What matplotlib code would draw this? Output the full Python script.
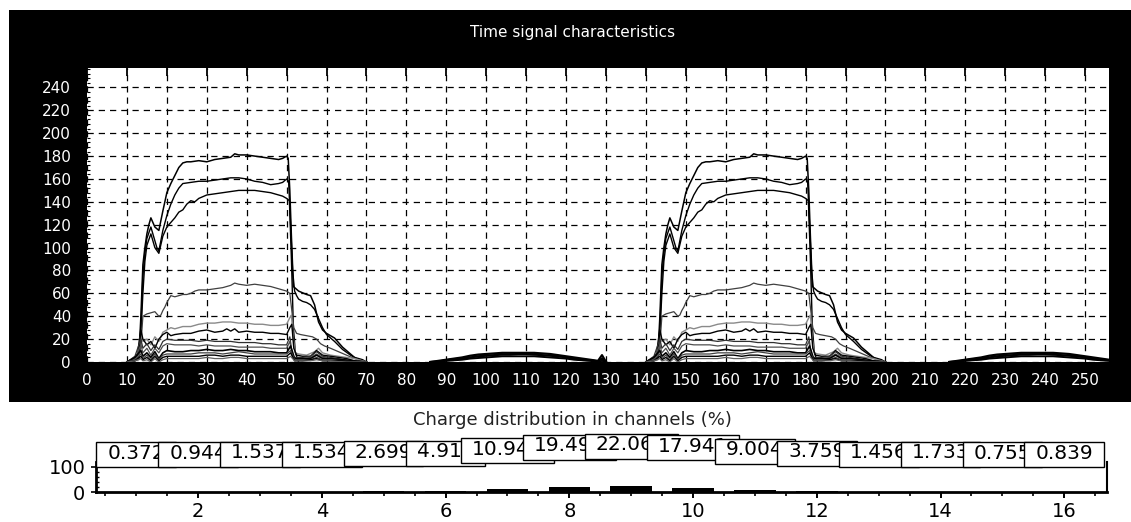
import numpy as np
import matplotlib
matplotlib.use("Agg")
import matplotlib.pyplot as plt
from matplotlib.patches import Rectangle
from matplotlib.ticker import MultipleLocator

# ---- time signal, one period (second period is the same pulse 130 later)
pulse_offsets = [0, 130]

xa = [10, 12, 13, 13.5, 14, 14.5, 15, 15.5, 16, 17, 18, 19, 20, 21, 22, 23, 24, 25, 26, 28, 30, 32, 34, 36,
      37, 38, 40, 42, 44, 46, 48, 49, 50, 50.4, 50.8, 51.2, 51.7, 53, 55, 56, 57, 58, 59, 60, 61, 62, 63, 64,
      65, 66, 67, 68, 69, 70]
ya = [0, 1, 5, 40, 85, 100, 112, 120, 126, 118, 115, 132, 148, 156, 163, 170, 174, 175, 175, 176, 175, 177,
      178, 179, 182, 181, 181, 180, 179, 178, 177, 178, 180, 178, 150, 110, 66, 62, 59, 58, 50, 35, 28, 25, 23,
      21, 17, 13, 10, 7, 4, 3, 2, 0]

xb = [10, 12.5, 13.5, 14, 14.5, 15, 16, 17, 17.5, 18, 19, 20, 21, 22, 23, 24, 26, 28, 30, 32, 34, 36, 38, 40,
      42, 44, 46, 48, 49, 50, 50.5, 51, 51.5, 52, 52.5, 53, 54, 55, 56, 57, 58, 59, 60, 62, 64, 66, 68, 70]
yb = [0, 2, 30, 75, 95, 108, 118, 106, 100, 97, 115, 128, 138, 146, 152, 156, 157, 158, 158, 159, 160, 161,
      161, 160, 158, 157, 155, 156, 157, 160, 158, 120, 80, 62, 58, 55, 53, 52, 50, 46, 38, 30, 24, 18, 11, 6,
      2, 0]

xc = [10, 13, 13.5, 14, 14.5, 15, 16, 17, 18, 19, 20, 21, 22, 23, 24, 25, 26, 27, 28, 30, 32, 34, 36, 38, 40,
      42, 44, 46, 48, 49, 50, 50.7, 51.2, 51.7, 52.2, 53]
yc = [0, 3, 25, 60, 88, 102, 112, 100, 95, 110, 118, 122, 126, 131, 133, 138, 141, 140, 143, 146, 147, 148,
      149, 150, 150, 150, 149, 148, 146, 145, 143, 141, 90, 30, 8, 0]

xd = [10, 13, 13.5, 14, 15, 16, 17, 18, 18.5, 19, 19.5, 20, 21, 22, 23, 24, 25, 26, 27, 28, 30, 32, 34, 36,
      37, 38, 40, 42, 44, 46, 48, 50, 50.8, 51.3, 51.8, 52.5, 53.5, 55, 56.5, 57.5, 58.5, 59.5, 61, 63, 65,
      67, 69, 70]
yd = [0, 2, 15, 40, 42, 43, 44, 40, 41, 45, 48, 52, 58, 57, 58, 59, 59, 60, 62, 63, 63, 64, 65, 67, 69, 68,
      67, 68, 67, 66, 64, 62, 60, 45, 30, 25, 24, 23, 22, 20, 16, 14, 12, 9, 6, 3, 1, 0]

xe = [10, 12, 13, 13.5, 14, 15, 16, 17, 18, 19, 20, 21, 22, 24, 26, 28, 30, 32, 34, 36, 38, 40, 42, 44, 46,
      48, 50, 50.7, 51.2, 51.7, 52.2, 53, 55, 57, 58, 59, 61, 63, 65, 67, 69, 70]
ye = [0, 3, 6, 25, 18, 20, 15, 22, 18, 26, 28, 30, 29, 31, 31, 33, 34, 34, 35, 35, 34, 34, 33, 33, 32, 32,
      33, 38, 41, 20, 8, 7, 6, 9, 12, 8, 6, 5, 4, 3, 1, 0]

xf = [10, 12, 13, 13.5, 14, 15, 16, 17, 18, 19, 20, 21, 22, 24, 26, 28, 30, 32, 34, 35, 36, 37, 38, 40, 42,
      44, 46, 48, 50, 50.8, 51.3, 51.8, 52.5, 54, 56, 57.5, 59, 61, 63, 65, 67, 70]
yf = [0, 4, 8, 28, 20, 15, 18, 12, 20, 24, 26, 23, 24, 25, 25, 27, 28, 26, 27, 29, 27, 29, 26, 27, 26, 26,
      25, 25, 24, 30, 33, 12, 6, 5, 5, 10, 6, 5, 4, 3, 1, 0]

xg = [10, 12, 13.5, 14, 15, 16, 17, 18, 19, 20, 22, 24, 26, 28, 30, 32, 34, 36, 38, 40, 42, 44, 46, 48, 50,
      50.8, 51.5, 52, 54, 56, 57.5, 59, 61, 63, 66, 70]
yg = [0, 5, 20, 12, 16, 10, 15, 11, 18, 20, 19, 19, 19, 18, 19, 18, 18, 18, 17, 17, 17, 16, 16, 15, 15, 22,
      5, 4, 4, 5, 9, 5, 4, 3, 1, 0]
yh = [0, 3, 15, 8, 12, 6, 12, 8, 14, 16, 15, 15, 15, 14, 15, 14, 14, 14, 13, 13, 13, 13, 12, 12, 12, 18, 4,
      3, 3, 4, 7, 4, 3, 2, 1, 0]

xl = [10, 12, 13.5, 14, 15, 16, 17, 18, 19, 20, 22, 24, 26, 28, 30, 32, 34, 36, 38, 40, 42, 44, 46, 48, 50,
      51, 52, 54, 56, 57.5, 59, 61, 64, 67, 70]
yi = [0, 4, 10, 5, 8, 4, 9, 3, 8, 10, 9, 9, 10, 10, 11, 10, 10, 11, 10, 10, 9, 9, 9, 8, 8, 14, 3, 3, 3, 6, 3,
      3, 2, 1, 0]
yj = [0, 2, 7, 3, 6, 2, 7, 2, 6, 7, 7, 7, 7, 8, 8, 8, 7, 8, 9, 8, 7, 7, 7, 7, 7, 10, 2, 2, 2, 4, 2, 2, 1, 0, 0]
yk = [0, 1, 5, 2, 4, 1, 5, 1, 4, 5, 5, 5, 5, 5, 6, 6, 5, 6, 6, 5, 5, 5, 5, 5, 5, 8, 1, 1, 2, 3, 1, 1, 1, 0, 0]
ym = [0, 1, 3, 1, 2, 0, 3, 0, 2, 3, 3, 3, 3, 3, 4, 3, 3, 4, 4, 3, 3, 3, 3, 3, 3, 5, 1, 1, 1, 2, 1, 1, 0, 0, 0]

# small bump between the pulses
xbump = [86, 88, 90, 92, 94, 96, 98, 100, 102, 104, 106, 108, 110, 112, 114, 116, 118, 120, 122, 124, 126,
         128, 129, 130]
bump1 = [0, 1, 2, 3, 4, 5.5, 6.5, 7, 7.5, 8, 8, 8, 8, 8, 7.5, 7, 6, 5, 4, 3, 2, 1, 6, 0]
bump2 = [0, 0.5, 1.5, 2.5, 3, 4, 5, 5.5, 6, 6.5, 6.5, 7, 7, 6.5, 6, 5.5, 5, 4, 3, 2, 1.5, 0.5, 3, 0]
bump3 = [0, 0, 1, 1.5, 2, 3, 3.5, 4, 4.5, 5, 5, 5, 5, 5, 4.5, 4, 3.5, 3, 2, 1.5, 1, 0, 1, 0]

# ---- charge distribution
channels = list(range(1, 17))
charge = [0.372, 0.944, 1.537, 1.534, 2.699, 4.912, 10.947, 19.495, 22.068, 17.941, 9.004, 3.759, 1.456,
          1.733, 0.755, 0.839]
charge_labels = ["0.372", "0.944", "1.537", "1.534", "2.699", "4.912", "10.947", "19.495", "22.068",
                 "17.941", "9.004", "3.759", "1.456", "1.733", "0.755", "0.839"]

curves = [
    (xa, ya, "black", 1.1), (xb, yb, "black", 1.0), (xc, yc, "black", 1.0),
    (xd, yd, "#404040", 0.9), (xe, ye, "#8a8a8a", 1.0), (xf, yf, "black", 1.0),
    (xg, yg, "#303030", 0.9), (xg, yh, "#505050", 0.9),
    (xl, yi, "black", 1.2), (xl, yj, "#404040", 0.9), (xl, yk, "black", 1.0), (xl, ym, "#606060", 0.9),
    (xbump, bump1, "black", 1.6), (xbump, bump2, "black", 1.6), (xbump, bump3, "black", 1.4),
]

W, H = 1131, 522
fig = plt.figure(figsize=(W / 100, H / 100), dpi=100)
fig.patches.append(Rectangle((9 / W, 1 - 402 / H), (W - 9) / W, 392 / H, transform=fig.transFigure,
                             facecolor="black", edgecolor="none", zorder=-5))

ax = fig.add_axes([87 / W, 1 - 362 / H, 1022 / W, 294 / H])
ax.set_zorder(2)
ax.set_facecolor("white")
ax.set_xlim(0, 256)
ax.set_ylim(0, 257)
ax.xaxis.set_major_locator(MultipleLocator(10))
ax.yaxis.set_major_locator(MultipleLocator(20))
ax.yaxis.set_minor_locator(MultipleLocator(4))
ax.set_axisbelow(True)
ax.grid(True, which="major", color="black", linestyle=(0, (5, 4)), linewidth=0.9)
for sp in ax.spines.values():
    sp.set_visible(False)
ax.tick_params(axis="x", which="major", direction="in", bottom=False, top=True, length=6, width=1.3,
               color="black", labelcolor="white", labelsize=11, pad=8)
ax.tick_params(axis="y", which="major", left=False, labelcolor="white", labelsize=11, pad=8)
ax.tick_params(axis="y", which="minor", direction="in", left=True, length=2, width=0.8, color="black")

for off in pulse_offsets:
    for xs, ys, col, lw in curves:
        ax.plot(np.array(xs) + off, ys, color=col, lw=lw)

fig.text(573 / W, 1 - 33 / H, "Time signal characteristics", color="white", fontsize=11,
         ha="center", va="center", zorder=3)

# ---- bottom panel
bx = fig.add_axes([96 / W, 1 - 492 / H, (1107 - 96) / W, 30 / H])
bx.set_zorder(2)
bx.set_xlim(0.35, 16.69)
bx.set_ylim(0, 120)
bx.bar(channels, charge, width=0.67, color="black")
bx.spines["top"].set_visible(False)
bx.spines["left"].set_linewidth(2)
bx.spines["bottom"].set_linewidth(2)
bx.spines["right"].set_linewidth(1.5)
bx.xaxis.set_major_locator(MultipleLocator(2))
bx.xaxis.set_minor_locator(MultipleLocator(0.5))
bx.set_yticks([0, 100])
bx.yaxis.set_minor_locator(MultipleLocator(20))
bx.tick_params(axis="x", which="major", length=4.3, width=1.4, labelsize=14, pad=3)
bx.tick_params(axis="x", which="minor", length=2.9, width=1.2)
bx.tick_params(axis="y", which="major", length=3.6, width=1.2, labelsize=14, pad=4)
bx.tick_params(axis="y", which="minor", direction="in", length=2, width=1)

fig.text(572 / W, 1 - 420 / H, "Charge distribution in channels (%)", color="#222222", fontsize=13,
         ha="center", va="center")

renderer = fig.canvas.get_renderer()
inv = bx.transData.inverted()
for i, (ch, v, s) in enumerate(zip(channels, charge, charge_labels)):
    t = bx.text(ch, 154 + 1.6 * v, s, ha="center", va="center", fontsize=14.5,
                zorder=20 + 2 * i + 1, clip_on=False)
    bb = t.get_window_extent(renderer)
    cx = (bb.x0 + bb.x1) / 2
    cy = (bb.y0 + bb.y1) / 2 - 1.5
    w = bb.width + 22
    (x0, y0), (x1, y1) = inv.transform([(cx - w / 2, cy - 12.5), (cx + w / 2, cy + 12.5)])
    bx.add_patch(Rectangle((x0, y0), x1 - x0, y1 - y0, facecolor="white", edgecolor="black", lw=1,
                           zorder=20 + 2 * i, clip_on=False))

fig.savefig("out.png", dpi=100, facecolor="white")
